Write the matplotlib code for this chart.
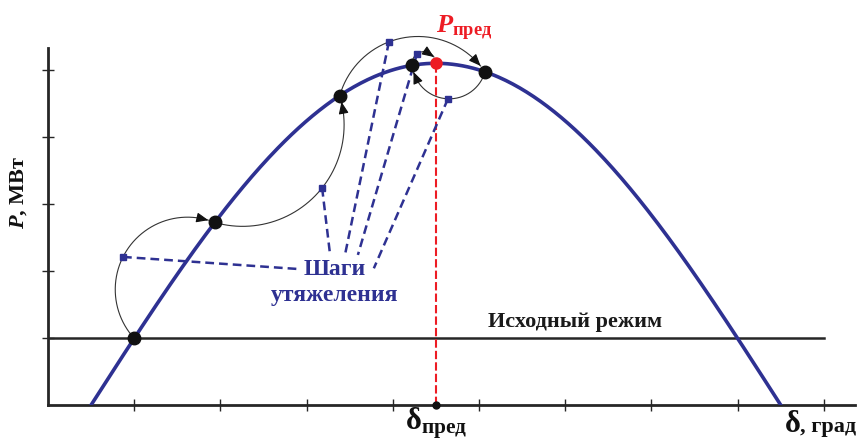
import numpy as np
import matplotlib
matplotlib.use('Agg')
import matplotlib.pyplot as plt

plt.rcParams['font.family'] = ['Liberation Serif', 'DejaVu Serif']
plt.rcParams['mathtext.fontset'] = 'custom'
plt.rcParams['mathtext.rm'] = 'Liberation Serif:bold'
plt.rcParams['mathtext.it'] = 'Liberation Serif:italic:bold'
plt.rcParams['mathtext.bf'] = 'Liberation Serif:bold'

BLUE = '#2E3192'
RED = '#ED1C24'
DARK = '#262626'

# Угловая характеристика мощности
delta_zero = [10.0, 170.0]   # град, где P = 0
p_max = 5.1
p_initial = 1.0              # исходный режим
delta_limit = 90.0

# точки на характеристике (после коррекции)
delta_steps = [20.0, 38.7, 67.7, 84.5, 101.4]
# шаги утяжеления (прогноз)
pred_delta = [17.4, 63.6, 79.1, 85.6, 92.8]
pred_p = [2.21, 3.24, 5.42, 5.24, 4.57]
# концы выносок у подписи
callout_delta = [58.0, 65.4, 68.9, 71.9, 75.6]
callout_p = [2.03, 2.27, 2.24, 2.24, 2.04]

# траектории: начальная точка -> прогноз -> конечная точка (5 = предельная)
paths = [(0, 0, 1), (1, 1, 2), (2, 2, 4), (4, 4, 3), (3, 3, 5)]

x_ticks = [20, 40, 60, 80, 100, 120, 140, 160, 180]
y_ticks = [1, 2, 3, 4, 5]


def p_curve(d):
    d = np.asarray(d, dtype=float)
    return p_max * np.sin(np.pi * (d - delta_zero[0]) / (delta_zero[1] - delta_zero[0]))


def arc_through(a, b, c, n=200):
    # дуга окружности через три точки (в пикселях), от a через b к c
    (x1, y1), (x2, y2), (x3, y3) = a, b, c
    den = 2 * (x1 * (y2 - y3) + x2 * (y3 - y1) + x3 * (y1 - y2))
    s1, s2, s3 = x1**2 + y1**2, x2**2 + y2**2, x3**2 + y3**2
    ux = (s1 * (y2 - y3) + s2 * (y3 - y1) + s3 * (y1 - y2)) / den
    uy = (s1 * (x3 - x2) + s2 * (x1 - x3) + s3 * (x2 - x1)) / den
    r = np.hypot(x1 - ux, y1 - uy)
    t0 = np.arctan2(y1 - uy, x1 - ux)
    t1 = np.arctan2(y2 - uy, x2 - ux)
    t2 = np.arctan2(y3 - uy, x3 - ux)
    span_mid = (t1 - t0) % (2 * np.pi)
    span_end = (t2 - t0) % (2 * np.pi)
    if span_mid < span_end:
        t = t0 + np.linspace(0, span_end, n)
    else:
        t = t0 - np.linspace(0, 2 * np.pi - span_end, n)
    return np.column_stack([ux + r * np.cos(t), uy + r * np.sin(t)])


fig = plt.figure(figsize=(8.68, 4.42), dpi=100)
ax = fig.add_axes([48 / 868, 37 / 442, 807 / 868, 357 / 442])
ax.set_xlim(0, 807 / 86.2 * 20)
ax.set_ylim(0, 357 / 67)

for side in ['top', 'right']:
    ax.spines[side].set_visible(False)
for side in ['left', 'bottom']:
    ax.spines[side].set_linewidth(2)
    ax.spines[side].set_color(DARK)
ax.set_xticks(x_ticks)
ax.set_yticks(y_ticks)
ax.tick_params(direction='inout', length=8, width=1, color=DARK,
               labelleft=False, labelbottom=False)

# характеристика
d = np.linspace(delta_zero[0], delta_zero[1], 400)
ax.plot(d, p_curve(d), color=BLUE, lw=2.6, zorder=3)

# исходный режим
ax.plot([0, 180], [p_initial, p_initial], color=DARK, lw=1.8, zorder=2)
ax.text(122.3, p_initial + 0.16, 'Исходный режим', ha='center', va='baseline',
        fontsize=16, fontweight='bold', color='#1a1a1a')

# предельный режим
p_lim = float(p_curve(delta_limit))
ax.plot([delta_limit, delta_limit], [0, p_lim], color=RED, lw=1.5,
        ls=(0, (4, 1.5)), zorder=4)
ax.plot(delta_limit, 0, 'o', color='#111111', ms=5, zorder=6, clip_on=False)

# выноски к подписи
for i in range(len(pred_delta)):
    ax.plot([pred_delta[i], callout_delta[i]], [pred_p[i], callout_p[i]],
            color=BLUE, lw=1.8, ls=(0, (3.5, 2)), zorder=4, clip_on=False)

# траектории утяжеления с коррекцией
end_pts = [(x, float(p_curve(x))) for x in delta_steps] + [(delta_limit, p_lim)]
to_px = ax.transData.transform
to_data = ax.transData.inverted().transform
for i0, j, i1 in paths:
    pts = to_px([end_pts[i0], (pred_delta[j], pred_p[j]), end_pts[i1]])
    arc = arc_through(*pts)
    dist = np.hypot(arc[:, 0] - pts[2][0], arc[:, 1] - pts[2][1])
    keep = arc[dist > 6.5]
    line = to_data(keep)
    ax.plot(line[:, 0], line[:, 1], color='#333333', lw=0.8, zorder=5,
            clip_on=False)
    back = to_data(keep[np.argmin(np.abs(np.hypot(keep[:, 0] - keep[-1, 0],
                                                  keep[:, 1] - keep[-1, 1]) - 9))])
    ax.annotate('', xy=line[-1], xytext=back, annotation_clip=False,
                arrowprops=dict(arrowstyle='-|>,head_length=0.6,head_width=0.25',
                                color='#111111', lw=0.8, shrinkA=0, shrinkB=0,
                                mutation_scale=12), zorder=6)

# точки
ax.plot(pred_delta, pred_p, 's', color=BLUE, ms=4, zorder=7, clip_on=False)
ax.plot(delta_steps, p_curve(delta_steps), 'o', color='#111111', ms=9, zorder=7,
        clip_on=False)
ax.plot(delta_limit, p_lim, 'o', color=RED, ms=8, zorder=8, clip_on=False)

# подписи
ax.text(66.6, 1.83, 'Шаги\nутяжеления', ha='center', va='center', fontsize=17,
        fontweight='bold', color=BLUE, linespacing=1.3, zorder=8)
ax.text(96.6, 5.55, r'$\mathit{P}_{\mathrm{пред}}$', ha='center', va='baseline',
        fontsize=19, color=RED)
ax.text(90.0, -0.36, r'$\mathbf{\delta}_{\mathrm{пред}}$', ha='center',
        va='baseline', fontsize=22, color='#111111')
ax.text(170.8, -0.40, r'$\mathbf{\delta}$', ha='left', va='baseline',
        fontsize=22, color='#111111')
ax.text(174.5, -0.40, ', град', ha='left', va='baseline', fontsize=16,
        fontweight='bold', color='#111111')
fig.text(19 / 868, 1 - 192 / 442, r'$\mathit{P}$, МВт', rotation=90,
         ha='center', va='center', fontsize=16, fontweight='bold', color='#111111')

fig.savefig('out.png', dpi=100)
